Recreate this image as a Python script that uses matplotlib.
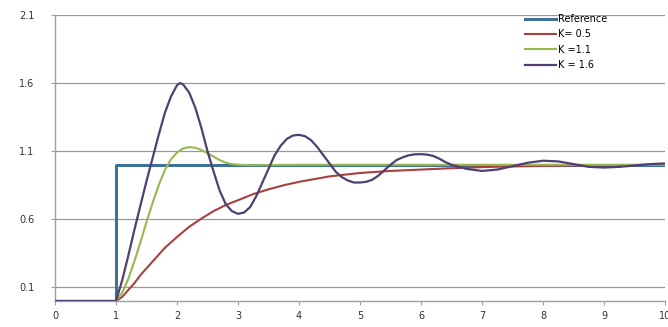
import matplotlib
matplotlib.use("Agg")
import matplotlib.pyplot as plt

# reference step
ref_t = [0, 1, 1, 10]
ref_v = [0, 0, 1.0, 1.0]

# K = 0.5
k05_t = [0, 1.0, 1.1, 1.2, 1.3, 1.4, 1.5, 1.6, 1.7, 1.8, 1.9, 2.0, 2.2, 2.4,
         2.6, 2.8, 3.0, 3.25, 3.5, 3.75, 4.0, 4.5, 5.0, 5.5, 6.0, 6.5, 7.0,
         7.5, 8.0, 9.0, 10.0]
k05_v = [0, 0.0, 0.03, 0.08, 0.13, 0.19, 0.24, 0.29, 0.34, 0.39, 0.43, 0.47,
         0.545, 0.605, 0.66, 0.705, 0.74, 0.785, 0.82, 0.85, 0.875, 0.915,
         0.94, 0.955, 0.965, 0.975, 0.983, 0.988, 0.992, 0.997, 1.0]

# K = 1.1
k11_t = [0, 1.0, 1.1, 1.2, 1.3, 1.4, 1.5, 1.6, 1.7, 1.8, 1.9, 2.0, 2.1, 2.2,
         2.3, 2.4, 2.5, 2.6, 2.7, 2.8, 2.9, 3.0, 3.2, 3.5, 4.0, 10.0]
k11_v = [0, 0.0, 0.06, 0.16, 0.29, 0.43, 0.58, 0.72, 0.85, 0.96, 1.04, 1.09,
         1.12, 1.13, 1.125, 1.11, 1.085, 1.06, 1.035, 1.015, 1.005, 1.0,
         0.997, 0.998, 1.0, 1.0]

# K = 1.6
k16_t = [0, 1.0, 1.1, 1.2, 1.3, 1.4, 1.5, 1.6, 1.7, 1.8, 1.9, 2.0, 2.05, 2.1,
         2.2, 2.3, 2.4, 2.5, 2.6, 2.7, 2.8, 2.9, 3.0, 3.1, 3.2, 3.3, 3.4,
         3.5, 3.6, 3.7, 3.8, 3.9, 4.0, 4.1, 4.2, 4.3, 4.4, 4.5, 4.6, 4.7,
         4.8, 4.9, 5.0, 5.1, 5.2, 5.3, 5.4, 5.5, 5.6, 5.7, 5.8, 5.9, 6.0,
         6.1, 6.2, 6.3, 6.4, 6.5, 6.75, 7.0, 7.25, 7.5, 7.75, 8.0, 8.25,
         8.5, 8.75, 9.0, 9.25, 9.5, 9.75, 10.0]
k16_v = [0, 0.0, 0.15, 0.33, 0.52, 0.70, 0.88, 1.05, 1.22, 1.38, 1.50, 1.585,
         1.60, 1.59, 1.53, 1.42, 1.27, 1.10, 0.95, 0.81, 0.71, 0.66, 0.64,
         0.65, 0.69, 0.77, 0.87, 0.97, 1.07, 1.14, 1.19, 1.215, 1.22, 1.21,
         1.18, 1.13, 1.07, 1.01, 0.95, 0.91, 0.885, 0.87, 0.87, 0.875, 0.89,
         0.92, 0.96, 1.0, 1.035, 1.055, 1.07, 1.077, 1.078, 1.075, 1.065,
         1.045, 1.02, 1.0, 0.97, 0.955, 0.965, 0.99, 1.015, 1.03, 1.025,
         1.005, 0.985, 0.98, 0.985, 0.995, 1.005, 1.01]

x_ticks = list(range(0, 11))
y_ticks = [0.1, 0.6, 1.1, 1.6, 2.1]

fig = plt.figure(figsize=(6.68, 3.27), dpi=100)
ax = fig.add_axes([55 / 668, 26 / 327, 610 / 668, 286 / 327])

ax.plot(k05_t, k05_v, color="#a8413e", lw=1.5, label="K= 0.5", zorder=3,
        solid_joinstyle="round")
ax.plot(k11_t, k11_v, color="#98b84f", lw=1.5, label="K =1.1", zorder=3,
        solid_joinstyle="round")
ax.plot(k16_t, k16_v, color="#4f3f72", lw=1.6, label="K = 1.6", zorder=4,
        solid_joinstyle="round")
ax.plot(ref_t, ref_v, color="#3f7196", lw=2.2, label="Reference", zorder=2)

ax.set_xlim(0, 10)
ax.set_ylim(0, 2.1)
ax.set_xticks(x_ticks)
ax.set_yticks(y_ticks)
ax.set_yticklabels([f"{v:.1f}" for v in y_ticks])
ax.grid(axis="y", color="#999999", lw=0.9)
ax.set_axisbelow(True)
for s in ("top", "right"):
    ax.spines[s].set_visible(False)
for s in ("left", "bottom"):
    ax.spines[s].set_color("#a0a0a0")
    ax.spines[s].set_linewidth(1.0)
ax.tick_params(axis="both", colors="#a0a0a0", labelcolor="#333333",
               labelsize=7, length=3)
ax.tick_params(axis="y", pad=12)
ax.tick_params(axis="x", pad=4)

h, l = ax.get_legend_handles_labels()
order = [3, 0, 1, 2]
ax.legend([h[i] for i in order], [l[i] for i in order],
          loc="upper left", bbox_to_anchor=(525 / 668, 1 - 14 / 327),
          bbox_transform=fig.transFigure, frameon=False, fontsize=7,
          handlelength=3.2, handletextpad=0.2, labelspacing=0.55,
          borderpad=0, borderaxespad=0)

fig.savefig("out.png", dpi=100)
